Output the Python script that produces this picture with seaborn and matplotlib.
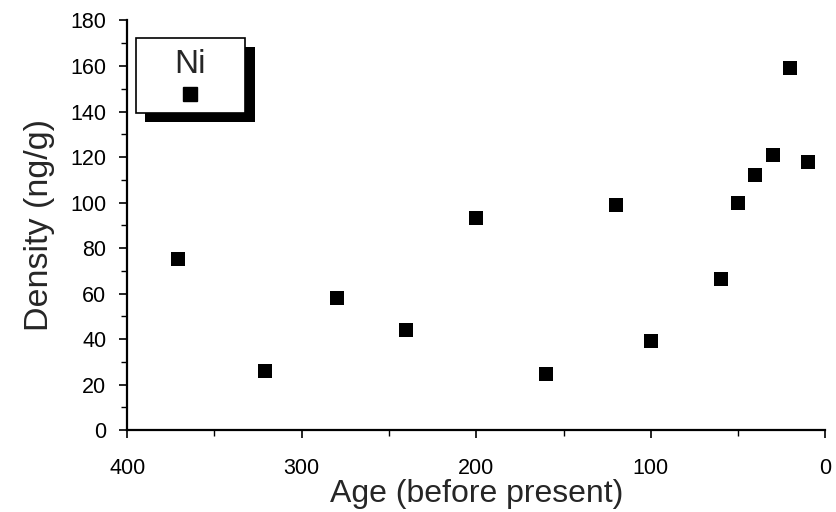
# Ni density vs age scatter
import pandas as pd
import matplotlib.pyplot as plt
import matplotlib.patheffects as pe
from matplotlib.ticker import MultipleLocator
from matplotlib.lines import Line2D
import seaborn as sns

# data (rotation corrected)
age = [371, 321, 280, 240, 200, 160, 120, 100, 60, 50, 40, 30, 20, 10]
density = [75, 26, 58, 44, 93, 24.5, 99, 39, 66.5, 100, 112, 121, 159, 118]
element = "Ni"

df = pd.DataFrame({"age": age, "density": density})

sns.set_theme(style="ticks")
plt.rcParams["font.family"] = ["Liberation Sans", "DejaVu Sans"]

fig = plt.figure(figsize=(8.37, 5.12), dpi=100)
ax = fig.add_axes([0.152, 0.16, 0.834, 0.8])

sns.scatterplot(data=df, x="age", y="density", marker="s", s=110,
                color="black", linewidth=0, ax=ax)

ax.set_xlim(400, 0)
ax.set_ylim(0, 180)
ax.xaxis.set_major_locator(MultipleLocator(100))
ax.xaxis.set_minor_locator(MultipleLocator(50))
ax.yaxis.set_major_locator(MultipleLocator(20))
ax.yaxis.set_minor_locator(MultipleLocator(10))

sns.despine(ax=ax)
for s in ["left", "bottom"]:
    ax.spines[s].set_linewidth(1.6)
    ax.spines[s].set_color("black")

ax.tick_params(axis="both", which="major", direction="out", length=6, width=1.2,
               colors="black", labelsize=15.5)
ax.tick_params(axis="both", which="minor", direction="out", length=4, width=1.0,
               colors="black")
ax.tick_params(axis="x", which="major", pad=14)
ax.tick_params(axis="y", which="major", pad=9)

ax.set_xlabel("Age (before present)", fontsize=23, labelpad=0)
ax.set_ylabel("Density (ng/g)", fontsize=24.5, labelpad=11)

# legend: element name on top, marker below, with heavy drop shadow
handle = Line2D([], [], marker="s", color="black", linestyle="none", markersize=10)
leg = ax.legend([handle], [""], title=element, loc="upper left",
                bbox_to_anchor=(0.012, 0.958), frameon=True, fancybox=False,
                fontsize=10, handletextpad=0, handlelength=6.2, borderpad=0.85,
                borderaxespad=0, title_fontsize=24)
frame = leg.get_frame()
frame.set_edgecolor("black")
frame.set_linewidth(1.2)
frame.set_alpha(1)
frame.set_path_effects([pe.SimplePatchShadow(offset=(7, -6.5), shadow_rgbFace="black", alpha=1),
                        pe.Normal()])
leg._legend_box.align = "center"

fig.savefig("out.png", dpi=100)
